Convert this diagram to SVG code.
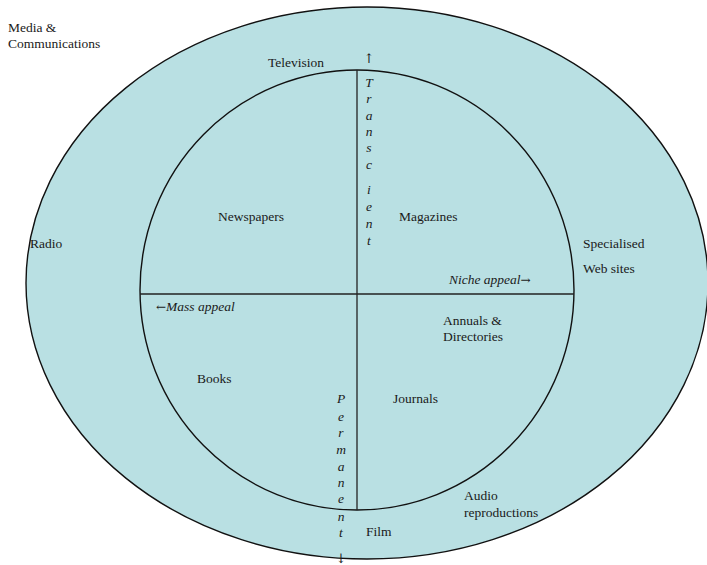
<svg xmlns="http://www.w3.org/2000/svg" width="707" height="565" viewBox="0 0 707 565">
<style>
text{font-family:"Liberation Serif","Times New Roman",serif;font-size:13.5px;fill:#1a1a1a}
.i{font-style:italic}
.v{font-style:italic;text-anchor:middle}
.ar{font-family:"DejaVu Serif",serif;font-size:13px;text-anchor:middle}
.shape{fill:#b9e0e3;stroke:#111;stroke-width:1.4}
.ln{stroke:#222;stroke-width:1.3;fill:none}
</style>
<rect width="707" height="565" fill="#fff"/>
<g id="outer"><ellipse class="shape" cx="367" cy="283" rx="341" ry="276"/></g>
<g id="inner"><ellipse class="shape" cx="357" cy="290" rx="217" ry="220"/></g>
<g id="connectors">
<line class="ln" x1="357" y1="70" x2="357" y2="510"/>
<line class="ln" x1="140" y1="294" x2="574" y2="294"/>
</g>
<g id="media"><text x="8" y="32">Media &amp;</text><text x="8" y="48">Communications</text></g>
<g id="television"><text x="268" y="67">Television</text></g>
<g id="transcient">
<text class="ar" x="369" y="63">↑</text>
<text class="v" x="369" y="87">T</text>
<text class="v" x="369" y="103">r</text>
<text class="v" x="369" y="120">a</text>
<text class="v" x="369" y="136">n</text>
<text class="v" x="369" y="152">s</text>
<text class="v" x="369" y="169">c</text>
<text class="v" x="369" y="194">i</text>
<text class="v" x="369" y="211">e</text>
<text class="v" x="369" y="228">n</text>
<text class="v" x="369" y="245">t</text>
</g>
<g id="newspapers"><text x="218" y="221">Newspapers</text></g>
<g id="magazines"><text x="399" y="221">Magazines</text></g>
<g id="radio"><text x="30" y="248">Radio</text></g>
<g id="specialised"><text x="583" y="248">Specialised</text><text x="583" y="273">Web sites</text></g>
<g id="niche"><text class="i" x="449" y="284">Niche appeal<tspan font-style="normal" font-family="DejaVu Serif, serif" font-size="12">→</tspan></text></g>
<g id="mass"><text class="i" x="156" y="311"><tspan font-style="normal" font-family="DejaVu Serif, serif" font-size="12">←</tspan>Mass appeal</text></g>
<g id="annuals"><text x="443" y="325">Annuals &amp;</text><text x="443" y="341">Directories</text></g>
<g id="books"><text x="197" y="383">Books</text></g>
<g id="journals"><text x="393" y="403">Journals</text></g>
<g id="permanent">
<text class="v" x="341" y="403">P</text>
<text class="v" x="341" y="421">e</text>
<text class="v" x="341" y="437">r</text>
<text class="v" x="341" y="454">m</text>
<text class="v" x="341" y="471">a</text>
<text class="v" x="341" y="487">n</text>
<text class="v" x="341" y="503">e</text>
<text class="v" x="341" y="521">n</text>
<text class="v" x="341" y="537">t</text>
<text class="ar" x="341" y="563">↓</text>
</g>
<g id="film"><text x="366" y="536">Film</text></g>
<g id="audio"><text x="464" y="500">Audio</text><text x="464" y="517">reproductions</text></g>
</svg>
